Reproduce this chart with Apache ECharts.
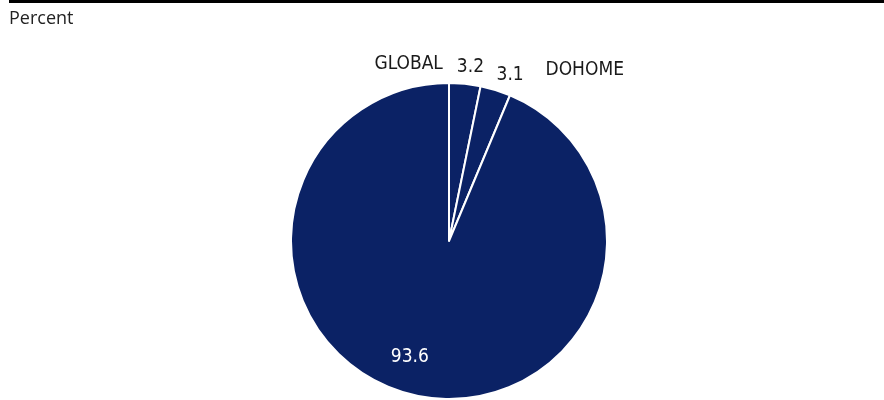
<!DOCTYPE html>
<html>
<head>
<meta charset="utf-8">
<script src="https://cdn.jsdelivr.net/npm/echarts@6/dist/echarts.min.js"></script>
<style>
  html, body { margin: 0; padding: 0; background: #fff; }
  #chart { width: 884px; height: 400px; }
</style>
</head>
<body>
<div id="chart"></div>
<script>
// Market share by company, percent
const categories = ['GLOBAL', 'DOHOME', 'Others'];
const shares = [3.2, 3.1, 93.6];
const namedCategories = ['GLOBAL', 'DOHOME'];

const NAVY = '#0b2265';
const LABEL_FONT = "'Liberation Sans Narrow', 'DejaVu Sans Condensed', 'Roboto Condensed', 'Roboto', sans-serif";

const pieData = categories.map((name, i) => ({ name: name, value: shares[i] }));

// Offsets for the labels relative to where the pie places them
const valueOffsets = [
  { dx: -8, dy: -17, align: 'left' },
  { dx: 1, dy: -15, align: 'left' },
  { dx: -23, dy: 36, align: 'center' }
];
const nameOffsets = [
  { dx: -22, dy: -20, align: 'right' },
  { dx: 50, dy: -20, align: 'left' },
  { dx: 0, dy: 0, align: 'center' }
];

const chart = echarts.init(document.getElementById('chart'), null, { renderer: 'canvas' });

const baseSeries = {
  type: 'pie',
  center: [449, 241],
  radius: 158,
  startAngle: 90,
  clockwise: true,
  avoidLabelOverlap: false,
  animation: false,
  labelLine: { show: false, length: 0, length2: 0 }
};

chart.setOption({
  animation: false,
  title: {
    text: 'Percent',
    left: 9,
    top: 10,
    padding: 0,
    textStyle: {
      fontFamily: "'Open Sans', 'Noto Sans', sans-serif",
      fontSize: 18,
      fontWeight: 'normal',
      color: '#222'
    }
  },
  graphic: [
    { type: 'rect', left: 9, top: 0, shape: { width: 875, height: 3 }, style: { fill: '#000' } }
  ],
  series: [
    Object.assign({}, baseSeries, {
      name: 'Share',
      data: pieData.map((d, i) => ({
        name: d.name,
        value: d.value,
        label: i === 2
          ? { position: 'inside', color: '#fff' }
          : { position: 'outside', color: '#1a1a1a' }
      })),
      itemStyle: { color: NAVY, borderColor: '#fff', borderWidth: 2 },
      label: {
        show: true,
        formatter: p => p.value.toFixed(1),
        fontFamily: LABEL_FONT,
        fontSize: 19,
        distanceToLabelLine: 0
      },
      labelLayout: p => valueOffsets[p.dataIndex]
    }),
    Object.assign({}, baseSeries, {
      name: 'Names',
      silent: true,
      z: 1,
      data: pieData.map((d, i) => ({
        name: d.name,
        value: d.value,
        label: { show: namedCategories.includes(d.name) }
      })),
      itemStyle: { color: 'rgba(0,0,0,0)', borderWidth: 0 },
      label: {
        show: true,
        position: 'outside',
        formatter: p => p.name,
        fontFamily: LABEL_FONT,
        fontSize: 19,
        color: '#1a1a1a',
        distanceToLabelLine: 0
      },
      labelLayout: p => nameOffsets[p.dataIndex]
    })
  ]
});
</script>
</body>
</html>
